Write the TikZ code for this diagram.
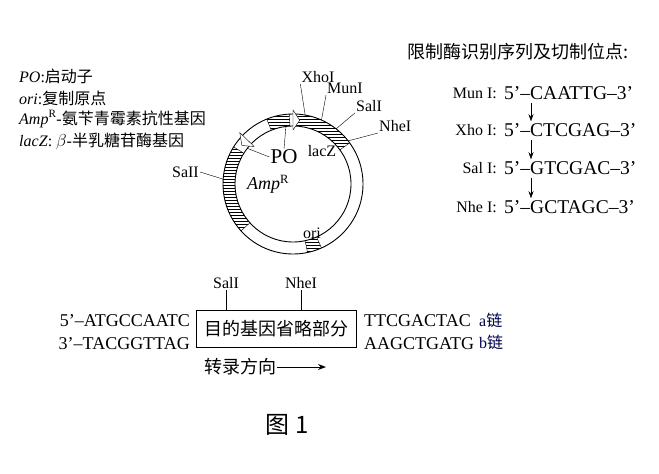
\documentclass[tikz,border=0pt]{standalone}
\usepackage{fontspec}
\setmainfont{Liberation Serif}
\newfontfamily\cjk{Noto Sans CJK SC}
\usetikzlibrary{arrows.meta,patterns,calc}
\begin{document}
\begin{tikzpicture}[x=1pt,y=-1pt,
  lbl/.style={inner sep=1pt,font=\fontsize{16}{18}\selectfont},
  big/.style={inner sep=1pt,font=\fontsize{18}{20}\selectfont},
  cn/.style={inner sep=1pt,font=\cjk\fontsize{18}{20}\selectfont},
  ring/.style={line width=0.9pt}]
\useasboundingbox (0,0) rectangle (659,474);
\coordinate (c) at (293,184);
\draw[ring] (c) circle (70);
\draw[ring] (c) circle (58);
\def\seg#1#2{\fill[pattern=horizontal lines] ($(c)+(-#1:70)$) arc[start angle=-#1,end angle=-#2,radius=70] -- ($(c)+(-#2:58)$) arc[start angle=-#2,end angle=-#1,radius=58] -- cycle;
 \draw ($(c)+(-#1:70)$) -- ($(c)+(-#1:58)$); \draw ($(c)+(-#2:70)$) -- ($(c)+(-#2:58)$);}
\seg{36}{90}
\seg{148}{222}
\seg{282}{294}
\seg{93}{112}
\fill[white,draw=black] ($(c)+(-90:74)$) -- ($(c)+(-84:64)$) -- ($(c)+(-90:54)$) -- cycle;
\fill[white,draw=black] ($(c)+(-136:74)$) -- ($(c)+(-143:64)$) -- ($(c)+(-136:54)$) -- cycle;
\node[lbl,anchor=south] (xho) at (318,84) {XhoI};
\node[lbl,anchor=south] (mun) at (345,95) {MunI};
\node[lbl,anchor=south] (sal1) at (369,113) {SalI};
\node[lbl,anchor=south west] (nhe1) at (378,133) {NheI};
\draw (xho.south west) -- ($(c)+(-80:70)$);
\draw (mun.south west) -- ($(c)+(-66:70)$);
\draw (sal1.south west) -- ($(c)+(-52:70)$);
\draw (nhe1.south west) -- ($(c)+(-38:70)$);
\node[lbl,anchor=east] (sal2) at (200,172) {SaII};
\draw (sal2.east) -- ($(c)+(-176:70)$);
\node[font=\fontsize{21}{23}\selectfont,inner sep=1pt] (po) at (284,157) {PO};
\draw (po.north) -- ($(c)+(-97:58)$);
\draw (po.west) -- ($(c)+(-142:58)$);
\node[lbl] (lacz) at (322,151) {lacZ};
\node[font=\fontsize{18}{20}\selectfont\itshape,inner sep=1pt] (amp) at (268,184) {Amp\textsuperscript{\upshape R}};
\node[lbl] (ori) at (312,233) {ori};
\node[lbl,anchor=west] (l1) at (18,76) {\textit{PO}:{\cjk\fontsize{16}{18}\selectfont 启动子}};
\node[lbl,anchor=west] (l2) at (18,98) {\textit{ori}:{\cjk\fontsize{16}{18}\selectfont 复制原点}};
\node[lbl,anchor=west] (l3) at (18,119) {\textit{Amp}\textsuperscript{R}-{\cjk\fontsize{16}{18}\selectfont 氨苄青霉素抗性基因}};
\node[lbl,anchor=west] (l4) at (18,141) {\textit{lacZ}: $\beta$-{\cjk\fontsize{16}{18}\selectfont 半乳糖苷酶基因}};
\node[cn] (title) at (518,52) {限制酶识别序列及切制位点:};
\foreach \n/\e/\s/\y in {r1/Mun I:/CAATTG/93,r2/Xho I:/CTCGAG/130,r3/Sal I:/GTCGAC/168,r4/Nhe I:/GCTAGC/207}{
  \node[lbl,anchor=east] (\n e) at (498,\y) {\e};
  \node[big,anchor=west,font=\fontsize{19.5}{21}\selectfont] (\n) at (503,\y) {5'–\s–3'};
}
\foreach \a/\b in {r1/r2,r2/r3,r3/r4}{
  \draw[-{Stealth[length=7pt,width=5pt]},shorten <=2pt,shorten >=1pt] ([xshift=28pt]\a.south west) -- ([xshift=28pt]\b.north west);
}
\node[draw,line width=1pt,minimum width=160pt,minimum height=37pt,font=\cjk\fontsize{18}{20}\selectfont] (gene) at (276,329) {目的基因省略部分};
\node[lbl,anchor=south] (gs) at (226,290) {SalI};
\node[lbl,anchor=south] (gn) at (301,290) {NheI};
\draw (gs.south) -- (gs.south |- gene.north);
\draw (gn.south) -- (gn.south |- gene.north);
\node[big,anchor=east] (s1) at (191,321) {5'–ATGCCAATC};
\node[big,anchor=east] (s2) at (191,344) {3'–TACGGTTAG};
\node[big,anchor=west] (s3) at (363,321) {TTCGACTAC};
\node[big,anchor=west] (s4) at (363,344) {AAGCTGATG};
\node[lbl,anchor=west,text=black!70!blue] (a) at (478,320) {a{\cjk 链}};
\node[lbl,anchor=west,text=black!70!blue] (b) at (478,342) {b{\cjk 链}};
\node[cn,anchor=west] (tr) at (203,367) {转录方向};
\coordinate (te) at (326,367);
\draw[-{Stealth[length=8pt,width=6pt]},line width=1pt] (tr.east) -- (te);
\node[font=\cjk\fontsize{24}{26}\selectfont] (fig) at (287,425) {图 1};
\end{tikzpicture}
\end{document}
